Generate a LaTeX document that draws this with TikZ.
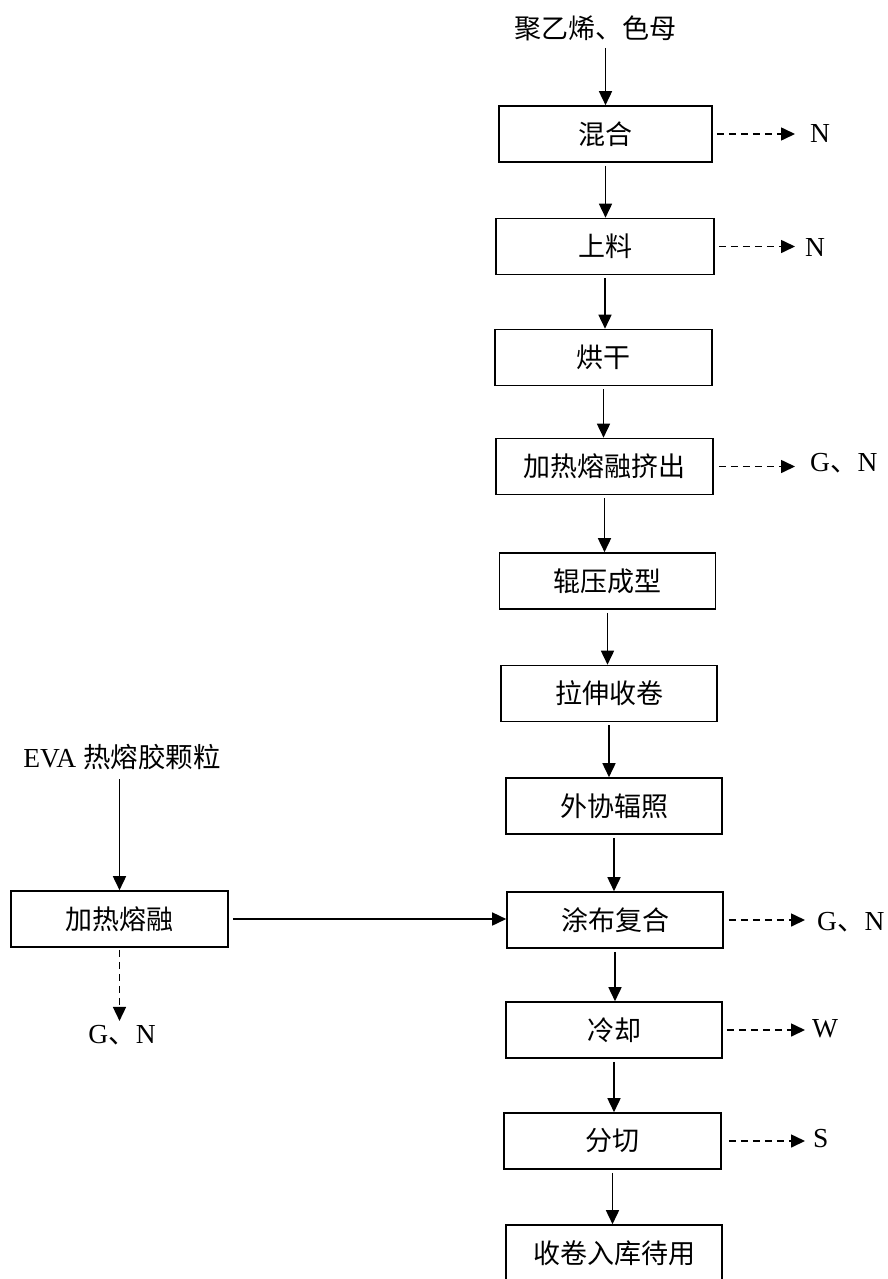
\documentclass[tikz,border=0pt]{standalone}
\usepackage{fontspec}
\setmainfont{Liberation Serif}
\newfontfamily\cjk{Noto Sans CJK SC}
\usetikzlibrary{arrows.meta}
\begin{document}
\begin{tikzpicture}[x=1pt,y=-1pt,
  box/.style={draw, line width=1.6pt, minimum width=216pt, minimum height=56pt, inner sep=0pt, font=\cjk\fontsize{27}{30}\selectfont},
  txt/.style={inner sep=0pt, font=\fontsize{27.5}{30}\selectfont},
  ctxt/.style={inner sep=0pt, font=\cjk\fontsize{27}{30}\selectfont},
  arr/.style={line width=1.6pt, -{Triangle[length=14pt,width=13pt]}},
  darr/.style={arr, dash pattern=on 7pt off 5pt}]
\useasboundingbox (0,0) rectangle (888,1279);
% main column
\node[ctxt] (src) at (595,28) {聚乙烯、色母};
\node[box, minimum width=213pt] (b1) at (605.5,134) {混合};
\node[box, minimum width=218pt] (b2) at (605,246.5) {上料};
\node[box, minimum width=217pt] (b3) at (603.5,357.5) {烘干};
\node[box, minimum width=217pt] (b4) at (604.5,466.5) {加热熔融挤出};
\node[box] (b5) at (607.5,581) {辊压成型};
\node[box] (b6) at (609,693.5) {拉伸收卷};
\node[box] (b7) at (614,806) {外协辐照};
\node[box] (b8) at (615,920) {涂布复合};
\node[box] (b9) at (614,1030) {冷却};
\node[box, minimum width=217pt] (b10) at (612.5,1141) {分切};
\node[box] (b11) at (614,1253) {收卷入库待用};
% left branch
\node[txt] (eva) at (122,757) {EVA {\cjk 热熔胶颗粒}};
\node[box, minimum width=217pt] (rm) at (119.5,919) {加热熔融};
\node[txt] (gnl) at (122,1035) {G{\cjk 、}N};
% outputs
\node[txt, anchor=west] (o1) at (810,133) {N};
\node[txt, anchor=west] (o2) at (805,247) {N};
\node[txt, anchor=west] (o3) at (810,463) {G{\cjk 、}N};
\node[txt, anchor=west] (o4) at (817,922) {G{\cjk 、}N};
\node[txt, anchor=west] (o5) at (812,1029) {W};
\node[txt, anchor=west] (o6) at (813,1139) {S};
% main arrows
\draw[arr] ([yshift=-7pt]src.south -| b1.north) -- (b1.north);
\draw[arr] ([yshift=-3pt]b1.south) -- (b1.south |- b2.north);
\draw[arr] ([yshift=-3pt]b2.south) -- (b2.south |- b3.north);
\draw[arr] ([yshift=-3pt]b3.south) -- (b3.south |- b4.north);
\draw[arr] ([yshift=-3pt]b4.south) -- (b4.south |- b5.north);
\draw[arr] ([yshift=-3pt]b5.south) -- (b5.south |- b6.north);
\draw[arr] ([yshift=-3pt]b6.south) -- (b6.south |- b7.north);
\draw[arr] ([yshift=-3pt]b7.south) -- (b7.south |- b8.north);
\draw[arr] ([yshift=-3pt]b8.south) -- (b8.south |- b9.north);
\draw[arr] ([yshift=-3pt]b9.south) -- (b9.south |- b10.north);
\draw[arr] ([yshift=-3pt]b10.south) -- (b10.south |- b11.north);
% left arrows
\draw[arr] ([yshift=-9pt]eva.south -| rm.north) -- (rm.north);
\draw[arr] ([xshift=4pt]rm.east) -- (rm.east -| b8.west);
\draw[darr] ([yshift=-2pt]rm.south) -- ([yshift=4pt]rm.south |- gnl.north);
% dashed outputs
\draw[darr] ([xshift=4pt]b1.east) -- ([xshift=-15pt]b1.east -| o1.west);
\draw[darr] ([xshift=4pt]b2.east) -- ([xshift=-10pt]b2.east -| o2.west);
\draw[darr] ([xshift=5pt]b4.east) -- ([xshift=-15pt]b4.east -| o3.west);
\draw[darr] ([xshift=5pt]b8.east) -- ([xshift=-12pt]b8.east -| o4.west);
\draw[darr] ([xshift=4pt]b9.east) -- ([xshift=-7pt]b9.east -| o5.west);
\draw[darr] ([xshift=7pt]b10.east) -- ([xshift=-8pt]b10.east -| o6.west);
\end{tikzpicture}
\end{document}
